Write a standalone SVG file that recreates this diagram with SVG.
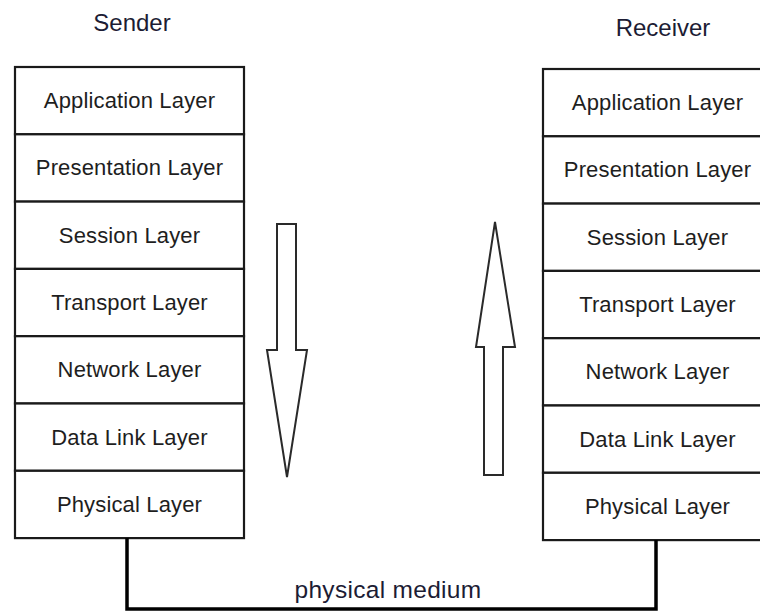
<svg xmlns="http://www.w3.org/2000/svg" width="760" height="612" viewBox="0 0 760 612">
  <style>
    .layer { fill: #ffffff; stroke: #1a1a1a; stroke-width: 2.2; }
    .lbl { font-family: "Liberation Sans", Arial, sans-serif; font-size: 22px; letter-spacing: 0.15px; fill: #1e1e1e; text-anchor: middle; }
    .title { font-family: "Liberation Sans", Arial, sans-serif; font-size: 24px; fill: #1c1c34; text-anchor: middle; }
    .medium { font-family: "Liberation Sans", Arial, sans-serif; font-size: 24.5px; letter-spacing: 0.3px; fill: #1c1c34; text-anchor: middle; }
    .flow { fill: #ffffff; stroke: #2a2a2a; stroke-width: 2; stroke-linejoin: miter; }
    .wire { fill: none; stroke: #000000; stroke-width: 3.5; }
  </style>

  <rect width="760" height="612" fill="#ffffff"/>

  <!-- stack titles -->
  <text class="title" x="132" y="31">Sender</text>
  <text class="title" x="663" y="36">Receiver</text>

  <!-- sender stack -->
  <g id="sender">
    <g id="s-application"><rect class="layer" x="15" y="67" width="229" height="67.3"/><text class="lbl" x="129.5" y="108">Application Layer</text></g>
    <g id="s-presentation"><rect class="layer" x="15" y="134.3" width="229" height="67.3"/><text class="lbl" x="129.5" y="175.3">Presentation Layer</text></g>
    <g id="s-session"><rect class="layer" x="15" y="201.6" width="229" height="67.3"/><text class="lbl" x="129.5" y="242.6">Session Layer</text></g>
    <g id="s-transport"><rect class="layer" x="15" y="268.9" width="229" height="67.3"/><text class="lbl" x="129.5" y="309.9">Transport Layer</text></g>
    <g id="s-network"><rect class="layer" x="15" y="336.2" width="229" height="67.3"/><text class="lbl" x="129.5" y="377.2">Network Layer</text></g>
    <g id="s-datalink"><rect class="layer" x="15" y="403.5" width="229" height="67.3"/><text class="lbl" x="129.5" y="444.5">Data Link Layer</text></g>
    <g id="s-physical"><rect class="layer" x="15" y="470.8" width="229" height="67.3"/><text class="lbl" x="129.5" y="511.8">Physical Layer</text></g>
  </g>

  <!-- receiver stack -->
  <g id="receiver">
    <g id="r-application"><rect class="layer" x="543" y="69" width="229" height="67.3"/><text class="lbl" x="657.5" y="110">Application Layer</text></g>
    <g id="r-presentation"><rect class="layer" x="543" y="136.3" width="229" height="67.3"/><text class="lbl" x="657.5" y="177.3">Presentation Layer</text></g>
    <g id="r-session"><rect class="layer" x="543" y="203.6" width="229" height="67.3"/><text class="lbl" x="657.5" y="244.6">Session Layer</text></g>
    <g id="r-transport"><rect class="layer" x="543" y="270.9" width="229" height="67.3"/><text class="lbl" x="657.5" y="311.9">Transport Layer</text></g>
    <g id="r-network"><rect class="layer" x="543" y="338.2" width="229" height="67.3"/><text class="lbl" x="657.5" y="379.2">Network Layer</text></g>
    <g id="r-datalink"><rect class="layer" x="543" y="405.5" width="229" height="67.3"/><text class="lbl" x="657.5" y="446.5">Data Link Layer</text></g>
    <g id="r-physical"><rect class="layer" x="543" y="472.8" width="229" height="67.3"/><text class="lbl" x="657.5" y="513.8">Physical Layer</text></g>
  </g>

  <!-- direction arrows and the physical link -->
  <g id="connectors">
    <polygon id="down-flow" class="flow" points="277,224 296,224 296,350 307,350 287,477 267,350 277,350"/>
    <polygon id="up-flow" class="flow" points="495,222 515,347 503,347 503,475 484,475 484,347 476,347"/>
    <polyline id="medium" class="wire" points="127,538 127,609 656,609 656,540"/>
    <text class="medium" x="388" y="598">physical medium</text>
  </g>
</svg>
